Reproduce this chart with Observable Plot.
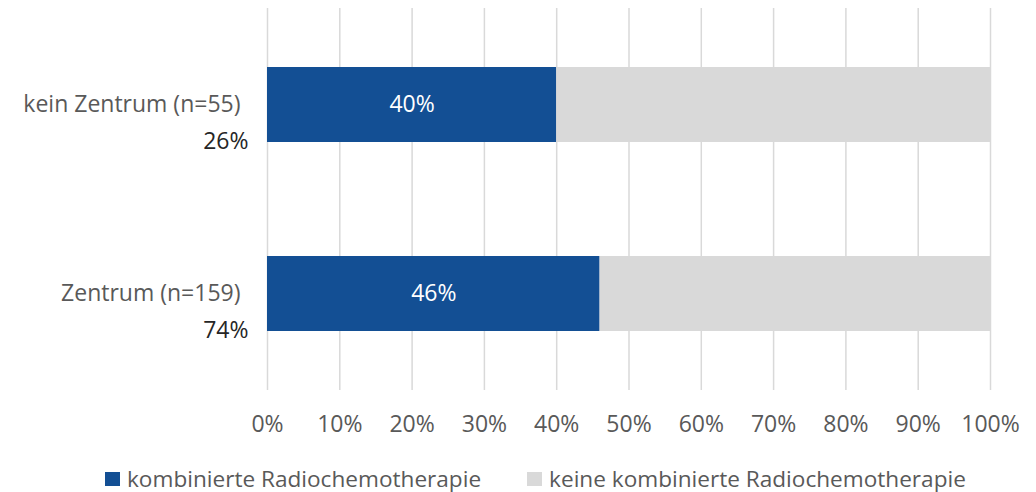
<!DOCTYPE html>
<html>
<head>
<meta charset="utf-8">
<script src="https://cdn.jsdelivr.net/npm/d3@7"></script>
<script src="https://cdn.jsdelivr.net/npm/@observablehq/plot@0.6"></script>
<style>
  body { margin: 0; background: #fff; font-family: "Open Sans", "Noto Sans", sans-serif; overflow: hidden; }
  #chart svg { display: block; }
  #legend { display: flex; height: 26px; margin-top: 11px; align-items: center; font-size: 22.6px; line-height: 26px; color: #595959; padding-left: 105px; }
  .item { display: flex; align-items: center; }
  .sw { width: 15px; height: 14px; margin-right: 7px; }
</style>
</head>
<body>
<div id="chart"></div>
<div id="legend"></div>
<script>
const categories = ["kein Zentrum (n=55)", "Zentrum (n=159)"];
const shares = ["26%", "74%"];
const series = ["kombinierte Radiochemotherapie", "keine kombinierte Radiochemotherapie"];
const combined = [40, 46];
const notCombined = [60, 54];
const xTicks = [0, 10, 20, 30, 40, 50, 60, 70, 80, 90, 100];
const colors = ["#134f94", "#d9d9d9"];

const rows = [];
categories.forEach((c, i) => {
  rows.push({cat: c, series: series[0], value: combined[i]});
  rows.push({cat: c, series: series[1], value: notCombined[i]});
});
const labelRows = categories.map((c, i) => ({cat: c, share: shares[i], value: combined[i]}));

const plot = Plot.plot({
  width: 1036,
  height: 455,
  marginLeft: 267,
  marginRight: 46,
  marginTop: 8,
  marginBottom: 65,
  style: {fontFamily: "'Open Sans', 'Noto Sans', sans-serif", fontSize: "23px", background: "#fff"},
  x: {domain: [0, 100], ticks: xTicks, tickFormat: d => d + "%", label: null},
  y: {domain: categories, paddingInner: 0.605, paddingOuter: 0.308, label: null, axis: null},
  color: {domain: series, range: colors},
  marks: [
    Plot.gridX(xTicks, {stroke: "#d9d9d9", strokeOpacity: 1, strokeWidth: 1.5}),
    Plot.axisX(xTicks, {tickSize: 0, tickPadding: 25, fill: "#595959", fontSize: 23, tickFormat: d => d + "%", label: null}),
    Plot.barX(rows, {x: "value", y: "cat", fill: "series"}),
    Plot.text(labelRows, {x: d => d.value / 2, y: "cat", text: d => d.value + "%", fill: "white", fontSize: 23}),
    Plot.text(labelRows, {x: 0, y: "cat", text: "cat", textAnchor: "end", dx: -27, fill: "#595959", fontSize: 23}),
    Plot.text(labelRows, {x: 0, y: "cat", text: "share", textAnchor: "end", dx: -19, dy: 37, fill: "#262626", fontSize: 23})
  ]
});
document.getElementById("chart").appendChild(plot);

const legend = document.getElementById("legend");
series.forEach((s, i) => {
  const item = document.createElement("div");
  item.className = "item";
  if (i > 0) item.style.marginLeft = "46px";
  const sw = document.createElement("div");
  sw.className = "sw";
  sw.style.background = colors[i];
  const t = document.createElement("span");
  t.textContent = s;
  item.appendChild(sw);
  item.appendChild(t);
  legend.appendChild(item);
});
</script>
</body>
</html>
